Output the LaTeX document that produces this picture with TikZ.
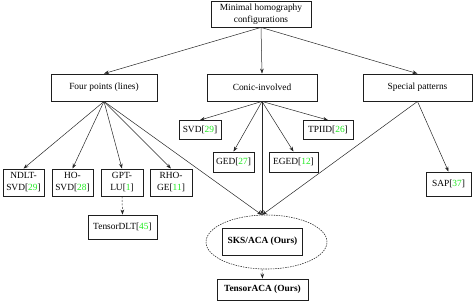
\documentclass[tikz,border=0pt]{standalone}
\usepackage{fontspec}
\setmainfont{Liberation Serif}
\usetikzlibrary{arrows.meta,shapes.geometric}
\definecolor{citegreen}{RGB}{30,235,30}
\definecolor{boxline}{RGB}{30,30,30}
\newcommand{\cit}[1]{[\textcolor{citegreen}{#1}]}
\begin{document}
\begin{tikzpicture}[x=1pt,y=-1pt,
  every node/.style={font=\fontsize{9.4}{12}\selectfont, inner sep=0pt, align=center},
  box/.style={draw=boxline, line width=0.85pt, fill=white},
  conn/.style={draw=black!85, line width=0.5pt, -{Stealth[length=5pt,width=3.6pt]}},
  dconn/.style={conn, dash pattern=on 2pt off 1.5pt}
]
\useasboundingbox (0,0) rectangle (475,306);

\node[box, minimum width=100pt, minimum height=26pt] (top) at (261,14) {Minimal homography\\configurations};
\node[box, minimum width=106pt, minimum height=27pt] (four) at (104,87.5) {Four points (lines)};
\node[box, minimum width=110pt, minimum height=27pt] (conic) at (262,87.5) {Conic-involved};
\node[box, minimum width=109pt, minimum height=27pt] (special) at (417.5,87.5) {Special patterns};

\node[box, minimum width=42pt, minimum height=19pt] (svd) at (200,130) {SVD\cit{29}};
\node[box, minimum width=50pt, minimum height=19pt] (tpiid) at (328,130) {TPIID\cit{26}};
\node[box, minimum width=41pt, minimum height=20pt] (ged) at (233.5,162) {GED\cit{27}};
\node[box, minimum width=49pt, minimum height=20pt] (eged) at (293.5,162) {EGED\cit{12}};
\node[box, minimum width=45pt, minimum height=24pt] (sap) at (448.5,184) {SAP\cit{37}};

\node[box, minimum width=41pt, minimum height=27pt] (ndlt) at (23.5,182.5) {NDLT-\\SVD\cit{29}};
\node[box, minimum width=41pt, minimum height=27pt] (ho) at (72.5,182.5) {HO-\\SVD\cit{28}};
\node[box, minimum width=42pt, minimum height=27pt] (gpt) at (122,182.5) {GPT-\\LU\cit{1}};
\node[box, minimum width=42pt, minimum height=27pt] (rho) at (171,182.5) {RHO-\\GE\cit{11}};
\node[box, minimum width=69pt, minimum height=24pt] (tdlt) at (122.5,227) {TensorDLT\cit{45}};

\node[draw=black!85, line width=0.55pt, dash pattern=on 1.5pt off 1pt, ellipse, minimum width=121pt, minimum height=54pt] (ell) at (266.5,242) {};
\node[box, minimum width=80pt, minimum height=27pt, font=\fontsize{9.4}{12}\selectfont\bfseries] (sks) at (262.5,241.5) {SKS/ACA (Ours)};
\node[box, minimum width=91pt, minimum height=21pt, font=\fontsize{9.4}{12}\selectfont\bfseries] (taca) at (262.5,289.5) {TensorACA (Ours)};

\coordinate (conv) at (262,215);
\coordinate (ellb) at (262,269);

\draw[conn] (top.south) -- (four.north);
\draw[conn] (top.south) -- (conic.north);
\draw[conn] (top.south) -- (special.north);

\draw[conn] (four.south) -- (ndlt.north);
\draw[conn] (four.south) -- (ho.north);
\draw[conn] (four.south) -- (gpt.north);
\draw[conn] (four.south) -- (rho.north);
\draw[conn] (four.south) -- (conv);

\draw[conn] (conic.south) -- (svd.north);
\draw[conn] (conic.south) -- (tpiid.north);
\draw[conn] (conic.south) -- (ged.north);
\draw[conn] (conic.south) -- (eged.north);
\draw[conn] (conic.south) -- (conv);

\draw[conn] (special.south) -- (sap.north);
\draw[conn] (special.south) -- (conv);

\draw[dconn] (gpt.south) -- (tdlt.north);
\draw[dconn] (ellb) -- (taca.north);
\end{tikzpicture}
\end{document}
